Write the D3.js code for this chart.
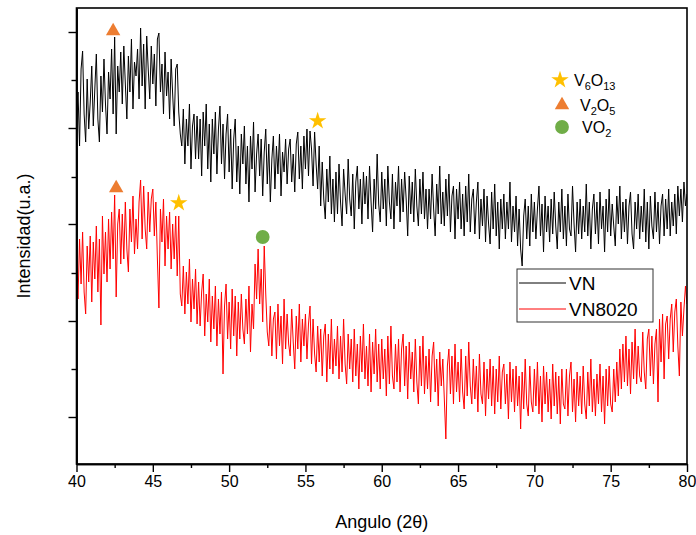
<!DOCTYPE html>
<html>
<head>
<meta charset="utf-8">
<script src="https://cdn.jsdelivr.net/npm/d3@7"></script>
<style>
  body { margin: 0; background: #fff; }
  svg { font-family: "Liberation Sans", Arial, sans-serif; }
</style>
</head>
<body>
<svg id="chart" width="696" height="535"></svg>
<script>
'use strict';

// 2theta from 40 to 80, step 0.1
var angleStart = 40, angleStep = 0.1;

var seriesNames = ["VN", "VN8020"];
var seriesColors = ["#000000", "#ff0000"];

// VN, intensity (a.u.)
var vn = [
  340, 372, 318, 395, 413, 350, 322, 385, 335, 362,
  398, 338, 375, 410, 345, 322, 388, 352, 405, 360,
  330, 392, 365, 415, 350, 427, 330, 398, 372, 412,
  360, 418, 380, 345, 408, 372, 425, 355, 402, 388,
  415, 365, 436, 378, 420, 355, 428, 395, 365, 418,
  380, 410, 358, 425, 431, 372, 400, 350, 412, 368,
  392, 345, 405, 370, 338, 395, 400, 352, 330, 318,
  355, 300, 345, 318, 360, 295, 338, 350, 305, 348,
  305, 345, 288, 352, 318, 360, 295, 340, 282, 345,
  310, 352, 290, 335, 358, 300, 340, 285, 330, 350,
  292, 335, 275, 325, 345, 282, 318, 270, 330, 300,
  338, 280, 318, 262, 328, 295, 342, 272, 310, 330,
  288, 325, 268, 312, 335, 280, 320, 262, 305, 328,
  275, 318, 290, 330, 268, 312, 292, 325, 280, 315,
  325, 282, 310, 272, 320, 332, 285, 318, 275, 328,
  295, 335, 288, 333, 315, 278, 332, 300, 275, 318,
  258, 302, 265, 245, 295, 262, 308, 250, 285, 242,
  292, 250, 300, 262, 238, 295, 270, 250, 305, 265,
  248, 290, 235, 282, 298, 255, 285, 240, 292, 260,
  288, 245, 298, 262, 232, 285, 255, 310, 260, 242,
  292, 255, 285, 238, 298, 262, 245, 290, 235, 282,
  258, 298, 242, 285, 252, 292, 265, 228, 288, 250,
  282, 242, 295, 258, 238, 285, 250, 292, 245, 275,
  235, 275, 245, 290, 255, 228, 280, 250, 298, 240,
  272, 238, 285, 248, 290, 232, 268, 278, 225, 275,
  245, 282, 235, 270, 228, 278, 242, 290, 232, 265,
  275, 230, 262, 282, 225, 265, 238, 275, 222, 268,
  240, 220, 272, 235, 280, 228, 262, 215, 265, 235,
  270, 225, 262, 235, 282, 222, 258, 232, 268, 218,
  255, 215, 198, 248, 265, 225, 258, 218, 270, 232,
  262, 225, 255, 278, 228, 260, 212, 268, 232, 258,
  222, 265, 230, 272, 238, 215, 262, 232, 275, 225,
  258, 218, 270, 235, 228, 278, 240, 212, 262, 230,
  265, 225, 258, 232, 280, 228, 262, 215, 255, 270,
  230, 262, 220, 272, 235, 258, 212, 265, 232, 275,
  228, 260, 238, 218, 268, 240, 278, 225, 262, 232,
  265, 220, 258, 272, 230, 215, 262, 235, 270, 225,
  258, 232, 275, 222, 262, 215, 268, 238, 225, 272,
  232, 262, 220, 258, 270, 228, 265, 235, 275, 228,
  262, 238, 270, 230, 278, 248, 275, 242, 282, 258,
  270
];

// VN8020, intensity (a.u.)
var vn8020 = [
  210, 165, 225, 180, 232, 172, 150, 218, 182, 228,
  162, 222, 185, 238, 172, 225, 139, 248, 190, 232,
  182, 245, 195, 252, 205, 269, 167, 240, 255, 200,
  250, 205, 262, 215, 192, 255, 222, 268, 210, 245,
  215, 262, 284, 225, 278, 235, 215, 272, 232, 265,
  275, 228, 262, 205, 156, 255, 222, 265, 198, 248,
  215, 252, 195, 240, 205, 248, 188, 248, 170, 158,
  198, 150, 192, 160, 205, 142, 185, 155, 195, 140,
  182, 138, 172, 190, 128, 170, 142, 185, 122, 168,
  135, 178, 118, 165, 130, 172, 90, 158, 180, 125,
  162, 115, 175, 128, 168, 108, 162, 125, 170, 135,
  120, 165, 130, 178, 112, 160, 135, 200, 165, 215,
  160, 195, 142, 218, 170, 132, 118, 158, 108, 145,
  152, 105, 160, 118, 148, 100, 165, 115, 150, 120,
  108, 155, 122, 95, 148, 115, 160, 102, 145, 118,
  150, 105, 140, 158, 100, 145, 110, 92, 138, 102,
  135, 88, 128, 140, 82, 130, 95, 145, 90, 125,
  98, 138, 85, 128, 92, 145, 100, 80, 130, 95,
  125, 82, 135, 88, 120, 75, 128, 92, 140, 85,
  118, 78, 130, 72, 122, 90, 135, 82, 120, 75,
  125, 85, 115, 68, 128, 80, 138, 88, 75, 120,
  82, 125, 72, 115, 130, 78, 118, 65, 122, 85,
  112, 72, 125, 82, 60, 118, 78, 128, 70, 108,
  75, 115, 62, 108, 122, 72, 105, 58, 112, 78,
  105, 65, 25, 98, 115, 70, 108, 60, 120, 72,
  102, 62, 115, 72, 55, 108, 68, 122, 78, 60,
  105, 65, 98, 52, 110, 70, 60, 102, 48, 95,
  65, 105, 58, 98, 50, 95, 62, 108, 55, 92,
  100, 60, 90, 45, 102, 62, 95, 52, 98, 58,
  88, 35, 92, 55, 105, 60, 48, 98, 62, 52,
  95, 58, 102, 50, 88, 42, 98, 60, 92, 52,
  85, 45, 100, 58, 92, 50, 88, 40, 95, 60,
  55, 95, 48, 88, 102, 52, 85, 42, 92, 58,
  88, 50, 98, 60, 45, 92, 58, 105, 52, 85,
  48, 90, 60, 100, 52, 88, 40, 95, 58, 98,
  60, 52, 95, 62, 102, 68, 115, 75, 120, 82,
  128, 78, 115, 70, 122, 85, 135, 80, 118, 88,
  82, 132, 92, 75, 125, 135, 88, 128, 80, 120,
  135, 62, 145, 102, 150, 85, 140, 148, 105, 145,
  160, 112, 152, 165, 118, 88, 162, 128, 155, 178,
  160
];

// phase markers
var phaseNames = ["V6O13", "V2O5", "VO2"];
var phaseColors = ["#ffc000", "#ed7d31", "#70ad47"];
var markerAngles = [42.4, 55.8, 42.6, 46.7, 52.2];
var markerHeights = [433, 343, 276, 261, 227];
var markerPhases = [1, 0, 1, 0, 2];

var xTicks = [40, 45, 50, 55, 60, 65, 70, 75, 80];
var xMinorTicks = [42.5, 47.5, 52.5, 57.5, 62.5, 67.5, 72.5, 77.5];
var yTicks = [47, 143, 240, 336, 432];
var yMinorTicks = [95, 191, 287, 384];

var svg = d3.select("#chart");
var plotLeft = 76.5, plotRight = 687, plotTop = 8, plotBottom = 464;

var x = d3.scaleLinear().domain([40, 80]).range([plotLeft, plotRight]);
var y = d3.scaleLinear().domain([0, 456]).range([plotBottom, plotTop]);

svg.append("clipPath").attr("id", "plotclip")
  .append("rect").attr("x", plotLeft).attr("y", plotTop)
  .attr("width", plotRight - plotLeft).attr("height", plotBottom - plotTop);

//
// data lines
//
var line = d3.line()
  .x((d, i) => x(angleStart + i * angleStep))
  .y(d => y(d));

[vn, vn8020].forEach((s, k) => {
  svg.append("path")
    .datum(s)
    .attr("clip-path", "url(#plotclip)")
    .attr("fill", "none")
    .attr("stroke", seriesColors[k])
    .attr("stroke-width", 1)
    .attr("stroke-linejoin", "round")
    .attr("d", line);
});

//
// frame + axes
//
svg.append("rect")
  .attr("x", plotLeft).attr("y", plotTop)
  .attr("width", plotRight - plotLeft).attr("height", plotBottom - plotTop)
  .attr("fill", "none").attr("stroke", "#000").attr("stroke-width", 1.6);

var xAxis = svg.append("g")
  .attr("transform", "translate(0," + plotBottom + ")")
  .call(d3.axisBottom(x).tickValues(xTicks).tickSize(8).tickSizeOuter(0).tickPadding(4));
svg.append("g")
  .attr("transform", "translate(0," + plotBottom + ")")
  .call(d3.axisBottom(x).tickValues(xMinorTicks).tickSize(4).tickSizeOuter(0).tickFormat(""));

svg.append("g")
  .attr("transform", "translate(" + plotLeft + ",0)")
  .call(d3.axisLeft(y).tickValues(yTicks).tickSize(8).tickSizeOuter(0).tickFormat(""));
svg.append("g")
  .attr("transform", "translate(" + plotLeft + ",0)")
  .call(d3.axisLeft(y).tickValues(yMinorTicks).tickSize(5).tickSizeOuter(0).tickFormat(""));

svg.selectAll(".domain").attr("stroke-width", 1.6);
svg.selectAll(".tick line").attr("stroke-width", 1.4);
xAxis.selectAll(".tick text")
  .attr("font-size", 16)
  .attr("font-family", "Liberation Sans, Arial, sans-serif")
  .attr("fill", "#000");

svg.append("text")
  .attr("x", (plotLeft + plotRight) / 2).attr("y", 528)
  .attr("text-anchor", "middle").attr("font-size", 18)
  .text("Angulo (2θ)");

svg.append("text")
  .attr("transform", "translate(30," + ((plotTop + plotBottom) / 2) + ") rotate(-90)")
  .attr("text-anchor", "middle").attr("font-size", 18)
  .text("Intensidad(u.a.)");

//
// phase markers
//
var shapes = [d3.symbolStar, d3.symbolTriangle, d3.symbolCircle];
var shapeSizes = [95, 90, 150];

function drawMarker(p, cx, cy) {
  svg.append("path")
    .attr("d", d3.symbol().type(shapes[p]).size(shapeSizes[p]))
    .attr("transform", "translate(" + cx + "," + cy + ")")
    .attr("fill", phaseColors[p]);
}

markerAngles.forEach((a, i) => {
  drawMarker(markerPhases[i], x(a), y(markerHeights[i]));
});

// phase legend
var phaseLegendY = [80, 105, 127];
var phaseLegendX = [560, 562, 562];
var phaseTextX = [574, 580, 582];
var phaseParts = [
  [["V", 0], ["6", 1], ["O", 0], ["13", 1]],
  [["V", 0], ["2", 1], ["O", 0], ["5", 1]],
  [["V", 0], ["O", 0], ["2", 1]]
];

phaseNames.forEach((n, p) => {
  drawMarker(p, phaseLegendX[p], phaseLegendY[p]);
  var t = svg.append("text")
    .attr("x", phaseTextX[p]).attr("y", phaseLegendY[p] + 6)
    .attr("font-size", 16).attr("fill", "#000");
  var shifted = false;
  phaseParts[p].forEach(part => {
    var sub = part[1] === 1;
    var dy = sub && !shifted ? 4 : (!sub && shifted ? -4 : 0);
    shifted = sub;
    t.append("tspan").attr("dy", dy)
      .attr("font-size", sub ? 11 : 16)
      .text(part[0]);
  });
});

//
// series legend
//
var lg = svg.append("g");
lg.append("rect")
  .attr("x", 517).attr("y", 269).attr("width", 136).attr("height", 53)
  .attr("fill", "#fff").attr("stroke", "#333").attr("stroke-width", 1);

seriesNames.forEach((n, k) => {
  var ly = 283 + k * 26;
  lg.append("line")
    .attr("x1", 519).attr("x2", 566).attr("y1", ly).attr("y2", ly)
    .attr("stroke", seriesColors[k]).attr("stroke-width", 1);
  lg.append("text")
    .attr("x", 569).attr("y", ly + 7)
    .attr("font-size", 19).attr("fill", "#000")
    .text(n);
});
</script>
</body>
</html>
